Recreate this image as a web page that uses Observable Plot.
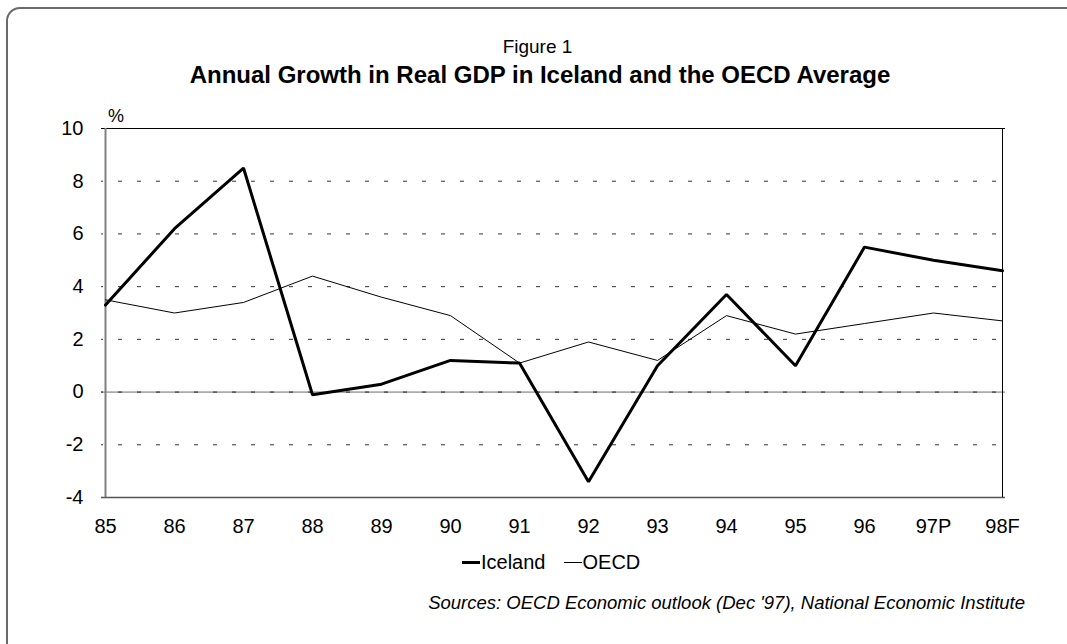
<!DOCTYPE html>
<html>
<head>
<meta charset="utf-8">
<script src="https://cdn.jsdelivr.net/npm/d3@7"></script>
<script src="https://cdn.jsdelivr.net/npm/@observablehq/plot@0.6"></script>
<style>
  html, body { margin: 0; padding: 0; background: #fff; overflow: hidden; }
  #wrap { position: relative; width: 1067px; height: 644px; overflow: hidden; font-family: "Liberation Sans", Arial, sans-serif; color: #000; }
  #frame { position: absolute; left: 6px; top: 7px; width: 1120px; height: 720px; border: 2px solid #6a6a6a; border-radius: 14px; box-sizing: border-box; }
  #chart { position: absolute; left: 0; top: 0; }
  .t { position: absolute; white-space: nowrap; }
  #fig { left: 0; width: 1075px; top: 37px; text-align: center; font-size: 19px; line-height: 19px; }
  #title { left: 0; width: 1080px; top: 63px; text-align: center; font-size: 24px; line-height: 24px; font-weight: bold; }
  #pct { left: 108px; top: 107px; font-size: 18px; line-height: 18px; }
  #legend { left: 462px; top: 552px; font-size: 20px; line-height: 20px; display: flex; align-items: center; }
  #legend .sw { display: inline-block; width: 18px; background: #000; margin-right: 1px; }
  #caption { left: 0; width: 1025px; top: 594px; text-align: right; font-size: 18.5px; line-height: 18.5px; font-style: italic; }
</style>
</head>
<body>
<div id="wrap">
  <div id="frame"></div>
  <div id="chart"></div>
  <div class="t" id="fig"></div>
  <div class="t" id="title"></div>
  <div class="t" id="pct"></div>
  <div class="t" id="legend"></div>
  <div class="t" id="caption"></div>
</div>
<script>
// ---- data ----
const years = ["85","86","87","88","89","90","91","92","93","94","95","96","97P","98F"];
const iceland = [3.3, 6.2, 8.5, -0.1, 0.3, 1.2, 1.1, -3.4, 1.0, 3.7, 1.0, 5.5, 5.0, 4.6];
const oecd = [3.5, 3.0, 3.4, 4.4, 3.6, 2.9, 1.1, 1.9, 1.2, 2.9, 2.2, 2.6, 3.0, 2.7];
const yTicks = [-4, -2, 0, 2, 4, 6, 8, 10];
const seriesNames = ["Iceland", "OECD"];
const figureLabel = "Figure 1";
const titleText = "Annual Growth in Real GDP in Iceland and the OECD Average";
const unitLabel = "%";
const captionText = "Sources: OECD Economic outlook (Dec '97), National Economic Institute";

const iceRows = years.map((y, i) => ({year: y, value: iceland[i]}));
const oecdRows = years.map((y, i) => ({year: y, value: oecd[i]}));
const yMin = yTicks[0], yMax = yTicks[yTicks.length - 1];
const gridVals = yTicks.filter(v => v !== yMin && v !== yMax && v !== 0);

const chart = Plot.plot({
  width: 1067,
  height: 547,
  marginTop: 128,
  marginBottom: 50,
  marginLeft: 101,
  marginRight: 62,
  style: {fontFamily: "'Liberation Sans', Arial, sans-serif", fontSize: "20px", color: "#000", background: "transparent"},
  x: {type: "point", domain: years, padding: 0},
  y: {domain: [yMin, yMax]},
  marks: [
    Plot.ruleY(gridVals, {stroke: "#333", strokeWidth: 1, strokeDasharray: "4,15", strokeDashoffset: 2}),
    Plot.ruleY([0], {stroke: "#6a6a6a", strokeWidth: 1}),
    Plot.ruleY([0], {stroke: "#222", strokeWidth: 1, strokeDasharray: "4,15", strokeDashoffset: 2}),
    Plot.ruleY([yMin], {stroke: "#555", strokeWidth: 1.5}),
    Plot.ruleY([yMax], {stroke: "#000", strokeWidth: 1.2}),
    Plot.ruleX([years[years.length - 1]], {stroke: "#000", strokeWidth: 1}),
    Plot.ruleX([years[0]], {stroke: "#808080", strokeWidth: 2}),
    Plot.lineY(oecdRows, {x: "year", y: "value", stroke: "#000", strokeWidth: 1}),
    Plot.lineY(iceRows, {x: "year", y: "value", stroke: "#000", strokeWidth: 3, strokeLinejoin: "miter"}),
    Plot.axisX({tickSize: 0, tickPadding: 21, label: null, fontSize: 20}),
    Plot.axisY({ticks: yTicks, tickSize: 0, tickPadding: 18, label: null, fontSize: 20, tickFormat: d => d3.format("d")(d).replace("−", "-")})
  ]
});
document.getElementById("chart").appendChild(chart);

document.getElementById("fig").textContent = figureLabel;
document.getElementById("title").textContent = titleText;
document.getElementById("pct").textContent = unitLabel;
document.getElementById("caption").textContent = captionText;

const legend = document.getElementById("legend");
const widths = [3, 1];
seriesNames.forEach((name, i) => {
  const sw = document.createElement("span");
  sw.className = "sw";
  sw.style.height = widths[i] + "px";
  const tx = document.createElement("span");
  tx.textContent = name;
  tx.style.marginRight = i === 0 ? "18px" : "0";
  legend.appendChild(sw);
  legend.appendChild(tx);
});
</script>
</body>
</html>
